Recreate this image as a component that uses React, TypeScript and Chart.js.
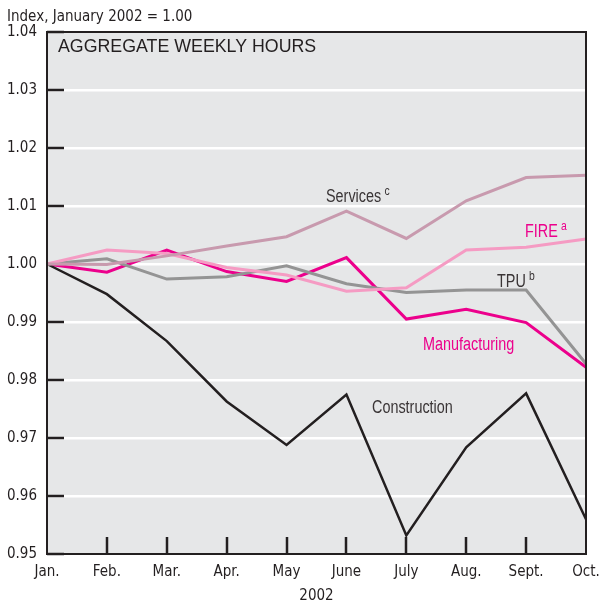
import React, { useEffect, useRef } from "react";
import { Chart, registerables } from "chart.js";

Chart.register(...registerables);

const months = ["Jan.", "Feb.", "Mar.", "Apr.", "May", "June", "July", "Aug.", "Sept.", "Oct."];
const construction = [1.0, 0.9948, 0.9867, 0.9763, 0.9688, 0.9775, 0.9532, 0.9684, 0.9777, 0.956];
const services = [1.0, 0.9999, 1.0014, 1.0031, 1.0047, 1.0091, 1.0044, 1.0109, 1.0149, 1.0153];
const fire = [1.0, 1.0024, 1.0018, 0.9994, 0.9981, 0.9953, 0.9959, 1.0024, 1.0029, 1.0043];
const tpu = [1.0, 1.0009, 0.9974, 0.9978, 0.9997, 0.9966, 0.9951, 0.9955, 0.9955, 0.9828];
const manufacturing = [1.0, 0.9986, 1.0024, 0.9987, 0.997, 1.0011, 0.9905, 0.9922, 0.9899, 0.9822];

const FONT = "'Liberation Sans Narrow', 'DejaVu Sans Condensed', 'Liberation Sans', Arial, sans-serif";
const DARK = "#231f20";

const decorPlugin = {
  id: "decor",
  beforeDraw(chart: any) {
    const { ctx, chartArea: a } = chart;
    ctx.save();
    ctx.fillStyle = "#e6e7e8";
    ctx.fillRect(a.left, a.top, a.right - a.left, a.bottom - a.top);
    ctx.restore();
  },
  beforeDatasetsDraw(chart: any) {
    const { ctx, chartArea: a, scales } = chart;
    ctx.save();
    ctx.strokeStyle = DARK;
    ctx.lineWidth = 2.5;
    const y = scales.y;
    y.ticks.forEach((t: any) => {
      const py = Math.round(y.getPixelForValue(t.value));
      ctx.beginPath();
      ctx.moveTo(a.left, py);
      ctx.lineTo(a.left + 17, py);
      ctx.stroke();
    });
    const x = scales.x;
    for (let i = 1; i < months.length - 1; i++) {
      const px = Math.round(x.getPixelForValue(i));
      ctx.beginPath();
      ctx.moveTo(px, a.bottom);
      ctx.lineTo(px, a.bottom - 17);
      ctx.stroke();
    }
    ctx.restore();
  },
  afterDatasetsDraw(chart: any) {
    const { ctx, chartArea: a } = chart;
    ctx.save();
    ctx.strokeStyle = DARK;
    ctx.lineWidth = 2;
    ctx.strokeRect(a.left, a.top, a.right - a.left, a.bottom - a.top);

    ctx.textBaseline = "alphabetic";
    ctx.textAlign = "left";
    ctx.fillStyle = DARK;
    ctx.font = "17.8px 'Liberation Sans', Arial, sans-serif";
    ctx.fillText("AGGREGATE WEEKLY HOURS", 58, 52);

    ctx.font = `15px ${FONT}`;
    ctx.fillText("Index, January 2002 = 1.00", 7, 21);

    const SX = 0.8;
    const label = (txt: string, sup: string, x: number, y: number, color: string) => {
      ctx.save();
      ctx.fillStyle = color;
      ctx.translate(x, y);
      ctx.scale(SX, 1);
      ctx.font = "18px 'Liberation Sans', Arial, sans-serif";
      ctx.fillText(txt, 0, 0);
      if (sup) {
        const w = ctx.measureText(txt).width;
        ctx.font = "13px 'Liberation Sans', Arial, sans-serif";
        ctx.fillText(sup, w + 4, -7);
      }
      ctx.restore();
    };
    label("Services", "c", 326, 202, "#3a3536");
    label("FIRE", "a", 525, 237, "#ec008c");
    label("TPU", "b", 497, 287, "#3a3536");
    label("Manufacturing", "", 423, 350, "#ec008c");
    label("Construction", "", 372, 413, "#3a3536");
    ctx.restore();
  },
};

export default function App() {
  const ref = useRef<HTMLCanvasElement>(null);
  useEffect(() => {
    document.body.style.margin = "0";
    const ds = (label: string, data: number[], color: string, width: number) => ({
      label,
      data,
      borderColor: color,
      backgroundColor: color,
      borderWidth: width,
      pointRadius: 0,
      tension: 0,
      fill: false,
    });
    const chart = new Chart(ref.current!, {
      type: "line",
      data: {
        labels: months,
        datasets: [
          ds("Services", services, "#c89aae", 3),
          ds("FIRE", fire, "#f59bc3", 3),
          ds("TPU", tpu, "#949494", 3),
          ds("Construction", construction, DARK, 2.5),
          ds("Manufacturing", manufacturing, "#ec008c", 3),
        ],
      },
      options: {
        animation: false,
        responsive: false,
        maintainAspectRatio: false,
        layout: { padding: { top: 32, right: 13, left: 0, bottom: 0 } },
        plugins: { legend: { display: false }, tooltip: { enabled: false } },
        scales: {
          x: {
            grid: { display: false, drawTicks: false },
            border: { display: false },
            ticks: {
              color: DARK,
              font: { family: FONT, size: 15 },
              padding: 9,
              maxRotation: 0,
              autoSkip: false,
            },
            title: {
              display: true,
              text: "2002",
              color: DARK,
              font: { family: FONT, size: 15 },
              padding: { top: 2, bottom: 0 },
            },
            afterFit: (s: any) => {
              s.height = 51;
              s.paddingLeft = 0;
              s.paddingRight = 0;
            },
          },
          y: {
            min: 0.95,
            max: 1.04,
            grid: {
              color: (c: any) =>
                c.tick && (Math.abs(c.tick.value - 0.95) < 1e-6 || Math.abs(c.tick.value - 1.04) < 1e-6)
                  ? "rgba(0,0,0,0)"
                  : "#ffffff",
              lineWidth: 2.5,
              drawTicks: false,
            },
            border: { display: false },
            ticks: {
              stepSize: 0.01,
              color: DARK,
              font: { family: FONT, size: 15 },
              padding: 10,
              callback: (v: any) => Number(v).toFixed(2),
            },
            afterFit: (s: any) => {
              s.width = 47;
              s.paddingTop = 0;
              s.paddingBottom = 0;
            },
          },
        },
      },
      plugins: [decorPlugin],
    });
    return () => chart.destroy();
  }, []);
  return (
    <div style={{ position: "absolute", left: 0, top: 0, width: 599, height: 605 }}>
      <canvas ref={ref} width={599} height={605} style={{ width: 599, height: 605, display: "block" }} />
    </div>
  );
}
